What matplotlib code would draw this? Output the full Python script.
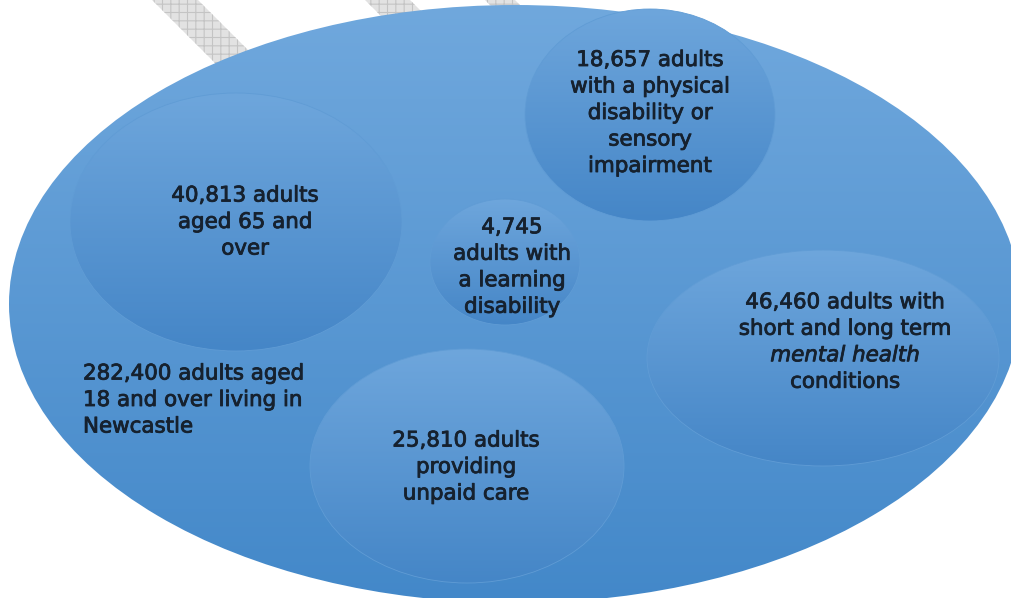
import numpy as np
import matplotlib.pyplot as plt
import matplotlib.patheffects as pe
from matplotlib.patches import Ellipse, Polygon
from matplotlib.colors import to_rgb

# population groups (labels as printed in the diagram)
total_label = ['282,400 adults aged', '18 and over living in', 'Newcastle']
group_labels = [
    ['40,813 adults', 'aged 65 and', 'over'],
    ['18,657 adults', 'with a physical', 'disability or', 'sensory', 'impairment'],
    ['4,745', 'adults with', 'a learning', 'disability'],
    ['46,460 adults with', 'short and long term', 'mental health', 'conditions'],
    ['25,810 adults', 'providing', 'unpaid care'],
]
italic_lines = {'mental health'}

# bubble geometry in pixel space (cx, cy, w, h)
big = (515, 304, 1012, 598)
bubbles = [
    (236, 222, 332, 258),
    (650, 115, 250, 212),
    (505, 262, 150, 126),
    (823, 358, 352, 216),
    (467, 466, 314, 234),
]
text_pos = [(245, 222), (650, 113), (512, 267), (845, 342), (466, 467)]
total_pos = (83, 400)

W, H = 1011, 598
fig = plt.figure(figsize=(W / 100, H / 100), dpi=100)
ax = fig.add_axes([0, 0, 1, 1])
ax.set_xlim(0, W)
ax.set_ylim(H, 0)
ax.axis('off')
plt.rcParams['hatch.color'] = '#c4c4c4'
plt.rcParams['hatch.linewidth'] = 0.8

# grey hatched strips behind the big ellipse
for x0, w in [(152, 46), (365, 45), (485, 30)]:
    strip = Polygon([(x0, 0), (x0 + w, 0), (x0 + w + 200, 200), (x0 + 200, 200)],
                    facecolor='#e2e2e2', edgecolor='#c4c4c4', hatch='++', lw=0, zorder=1)
    ax.add_patch(strip)


def gradient_ellipse(cx, cy, w, h, top, bottom, z, edge=None):
    e = Ellipse((cx, cy), w, h, facecolor='none',
                edgecolor=edge if edge else 'none', lw=0.6, zorder=z + 0.5)
    ax.add_patch(e)
    t = np.linspace(0, 1, 256)[:, None]
    c0, c1 = np.array(to_rgb(top)), np.array(to_rgb(bottom))
    img = (c0 * (1 - t) + c1 * t)[:, None, :]
    im = ax.imshow(img, extent=(cx - w / 2, cx + w / 2, cy + h / 2, cy - h / 2),
                   aspect='auto', zorder=z, interpolation='bilinear')
    im.set_clip_path(e)


gradient_ellipse(*big, '#70a8dd', '#4388c9', 2)
for (cx, cy, w, h) in bubbles:
    gradient_ellipse(cx, cy, w, h, '#6ea6dc', '#4586c7', 3, edge='#609cd5')

fs = 15.4
lh = 26.5
heavy = [pe.withStroke(linewidth=0.6, foreground='#16212e')]
txt = dict(fontsize=fs, color='#16212e', family='DejaVu Sans', zorder=5, path_effects=heavy)
for lines, (x, y) in zip(group_labels, text_pos):
    n = len(lines)
    for i, line in enumerate(lines):
        yy = y + (i - (n - 1) / 2) * lh
        ax.text(x, yy, line, ha='center', va='center',
                style='italic' if line in italic_lines else 'normal', **txt)

for i, line in enumerate(total_label):
    ax.text(total_pos[0], total_pos[1] + (i - 1) * lh, line, ha='left', va='center', **txt)

fig.savefig('out.png', dpi=100)
